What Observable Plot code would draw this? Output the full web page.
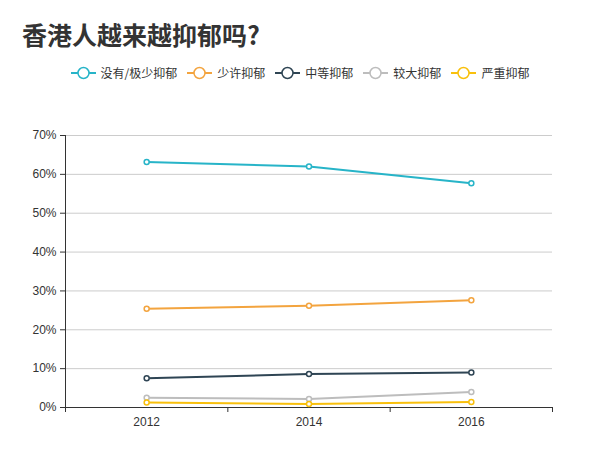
<!DOCTYPE html>
<html>
<head>
<meta charset="utf-8">
<script src="https://cdn.jsdelivr.net/npm/d3@7"></script>
<script src="https://cdn.jsdelivr.net/npm/@observablehq/plot@0.6"></script>
<style>
  body { margin: 0; background: #fff; font-family: "Noto Sans CJK SC", "DejaVu Sans", sans-serif; }
  #wrap { position: relative; width: 600px; height: 450px; }
  #title { position: absolute; left: 22px; top: 22px; font-size: 25px; font-weight: bold; color: #333; line-height: 1; }
  #legend { position: absolute; left: 0; top: 64px; width: 600px; display: flex; justify-content: center; font-size: 12px; color: #333; line-height: 18px; }
  .item { display: flex; align-items: center; margin: 0 5px; }
  .item svg { margin-right: 5px; }
  #chart { position: absolute; left: 0; top: 100px; }
</style>
</head>
<body>
<div id="wrap">
  <div id="title">香港人越来越抑郁吗?</div>
  <div id="legend"></div>
  <div id="chart"></div>
</div>
<script>
const years = [2012, 2014, 2016];
const seriesNames = ["没有/极少抑郁", "少许抑郁", "中等抑郁", "较大抑郁", "严重抑郁"];
const colors = ["#27b4c8", "#f3a43f", "#2f4554", "#bdbdbd", "#f9c00c"];
const noneLow = [63.2, 62.0, 57.7];
const slight = [25.4, 26.2, 27.6];
const moderate = [7.5, 8.6, 9.0];
const large = [2.5, 2.2, 4.0];
const severe = [1.3, 0.9, 1.4];
const yTicks = [0, 10, 20, 30, 40, 50, 60, 70];
const xBoundaries = [2011, 2013, 2015, 2017];

const allValues = [noneLow, slight, moderate, large, severe];
const data = [];
seriesNames.forEach((name, i) => {
  years.forEach((yr, j) => data.push({ series: name, year: yr, value: allValues[i][j] }));
});

// legend
const legend = document.getElementById("legend");
seriesNames.forEach((name, i) => {
  const it = document.createElement("div");
  it.className = "item";
  it.innerHTML = `<svg width="25" height="14"><line x1="0" y1="7" x2="25" y2="7" stroke="${colors[i]}" stroke-width="2"/><circle cx="12.5" cy="7" r="5.5" fill="#fff" stroke="${colors[i]}" stroke-width="1.5"/></svg><span>${name}</span>`;
  legend.appendChild(it);
});

const chart = Plot.plot({
  width: 600,
  height: 350,
  marginTop: 35,
  marginBottom: 43,
  marginLeft: 65,
  marginRight: 48,
  style: { fontFamily: "'Liberation Sans', Arial, sans-serif", fontSize: "12px", color: "#333", background: "#fff" },
  x: { type: "linear", domain: [2011, 2017], label: null },
  y: { type: "linear", domain: [0, 70], label: null },
  color: { domain: seriesNames, range: colors },
  marks: [
    Plot.ruleY(yTicks.slice(1), { stroke: "#ccc", strokeWidth: 1, strokeOpacity: 1 }),
    Plot.axisY({ ticks: yTicks, tickSize: 5, tickFormat: d => d + "%", stroke: "#333", fill: "#333", tickPadding: 4, label: null }),
    Plot.ruleX([2011], { stroke: "#333", strokeWidth: 1 }),
    Plot.axisX({ ticks: xBoundaries, tickSize: 5, tickFormat: () => "", stroke: "#333", label: null }),
    Plot.axisX({ ticks: years, tickSize: 0, tickFormat: d => String(d), tickPadding: 10, fill: "#333", label: null }),
    Plot.ruleY([0], { stroke: "#333", strokeWidth: 1 }),
    Plot.line(data, { x: "year", y: "value", z: "series", stroke: "series", strokeWidth: 2 }),
    Plot.dot(data, { x: "year", y: "value", stroke: "series", fill: "#fff", r: 2.5, strokeWidth: 1.5 })
  ]
});
document.getElementById("chart").appendChild(chart);
</script>
</body>
</html>
